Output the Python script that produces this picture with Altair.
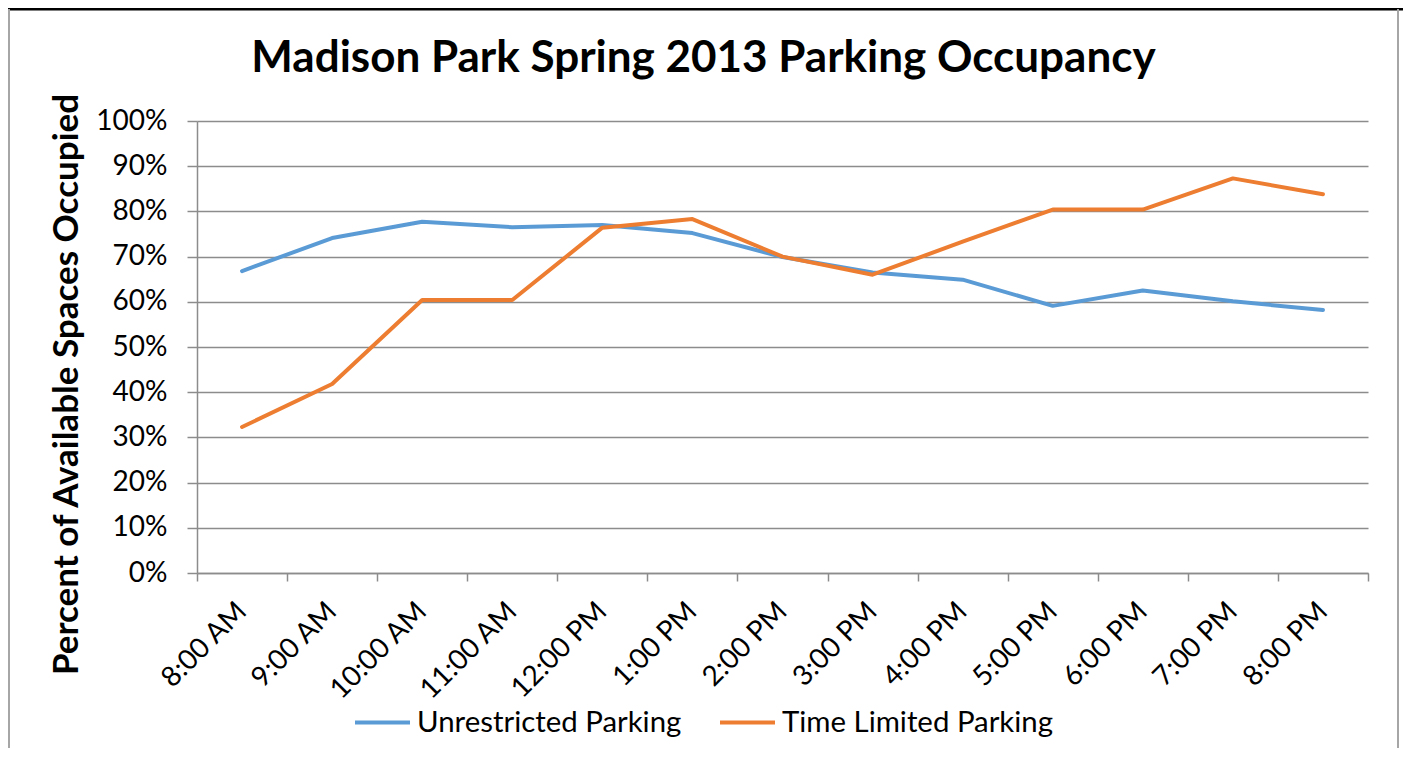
import altair as alt
import pandas as pd

hours = ["8:00 AM", "9:00 AM", "10:00 AM", "11:00 AM", "12:00 PM", "1:00 PM",
         "2:00 PM", "3:00 PM", "4:00 PM", "5:00 PM", "6:00 PM", "7:00 PM", "8:00 PM"]
unrestricted = [66.8, 74.1, 77.7, 76.5, 77.0, 75.2, 69.9, 66.5, 64.9, 59.1, 62.5, 60.1, 58.2]
time_limited = [32.3, 41.8, 60.4, 60.4, 76.4, 78.3, 70.0, 66.0, 73.3, 80.4, 80.4, 87.3, 83.8]
series_names = ["Unrestricted Parking", "Time Limited Parking"]
series_colors = ["#5B9BD5", "#ED7D31"]
y_ticks = [i / 10 for i in range(11)]

rows = []
for name, vals in zip(series_names, [unrestricted, time_limited]):
    for h, v in zip(hours, vals):
        rows.append({"hour": h, "value": v / 100, "series": name})
df = pd.DataFrame(rows)

FONT = "Lato"
GRAY = "#8c8c8c"

lines = alt.Chart(df).mark_line(strokeWidth=4, strokeCap="round", strokeJoin="round").encode(
    x=alt.X("hour:N", sort=hours, bandPosition=0.5,
            scale=alt.Scale(type="band", paddingInner=0, paddingOuter=0),
            axis=alt.Axis(title=None, labelAngle=-45, labelFont=FONT, labelFontSize=28,
                          labelColor="black", tickBand="extent", tickSize=8,
                          tickColor=GRAY, tickWidth=1.5, domainColor=GRAY, domainWidth=1.5,
                          labelPadding=16, labelOffset=-10, grid=False)),
    y=alt.Y("value:Q", scale=alt.Scale(domain=[0, 1], nice=False),
            axis=alt.Axis(values=y_ticks, format=".0%", title="Percent of Available Spaces Occupied",
                          titleFont=FONT, titleFontSize=35, titleFontWeight="bold", titleColor="black",
                          titleX=-131, titleY=263, titleAngle=-90, titleBaseline="middle",
                          titleAlign="center",
                          labelFont=FONT, labelFontSize=28, labelColor="black", labelPadding=20,
                          tickSize=10, tickColor=GRAY, tickWidth=1.5, domainColor=GRAY,
                          domainWidth=1.5, gridColor=GRAY, gridWidth=1.3)),
    color=alt.Color("series:N", sort=series_names,
                    scale=alt.Scale(domain=series_names, range=series_colors),
                    legend=alt.Legend(title=None, orient="none", legendX=156, legendY=572,
                                      direction="horizontal", symbolType="stroke",
                                      symbolSize=3025, symbolStrokeWidth=4,
                                      labelFont=FONT, labelFontSize=29.4, labelColor="black",
                                      labelOffset=5, labelLimit=1000, columnPadding=30,
                                      padding=0)),
)

frame_df = pd.DataFrame({"k": [0]})
top_line = alt.Chart(frame_df).mark_rule(color="black", strokeWidth=3).encode(
    x=alt.value(-189), x2=alt.value(1210), y=alt.value(-112))
left_line = alt.Chart(frame_df).mark_rule(color="#a6a6a6", strokeWidth=2).encode(
    x=alt.value(-188), y=alt.value(-112), y2=alt.value(627))
right_line = alt.Chart(frame_df).mark_rule(color="#a6a6a6", strokeWidth=2).encode(
    x=alt.value(1201), y=alt.value(-112), y2=alt.value(627))

chart = alt.layer(lines, top_line, left_line, right_line).properties(
    width=1171, height=452,
    autosize=alt.AutoSizeParams(type="none"),
    padding={"left": 189, "top": 113, "right": 35, "bottom": 175},
    title=alt.TitleParams("Madison Park Spring 2013 Parking Occupancy", font=FONT, fontSize=44,
                          fontWeight="bold", color="black", anchor="middle", dx=-79,
                          offset=0, dy=108, baseline="alphabetic"),
    background="white",
).configure_view(stroke=None)

chart.save("out.html", embed_options={"renderer": "svg", "actions": False})
